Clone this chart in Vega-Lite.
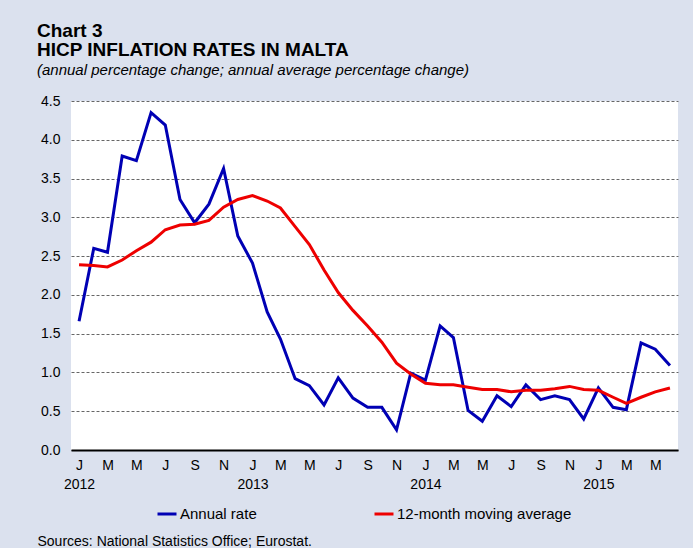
{
  "$schema": "https://vega.github.io/schema/vega-lite/v6.json",
  "autosize": {"type": "none"},
  "width": 607,
  "height": 349,
  "padding": {"left": 71, "top": 101, "right": 15, "bottom": 98},
  "background": "#dbe1ee",
  "view": {"fill": "white", "stroke": null},
  "config": {"font": "Liberation Sans"},
  "title": {
    "text": ["Chart 3", "HICP INFLATION RATES IN MALTA"],
    "subtitle": "(annual percentage change; annual average percentage change)",
    "anchor": "start",
    "frame": "group",
    "dx": -34,
    "offset": 16,
    "fontSize": 19,
    "fontWeight": "bold",
    "lineHeight": 19,
    "color": "black",
    "subtitleFontSize": 15,
    "subtitleFontStyle": "italic",
    "subtitleColor": "black",
    "subtitlePadding": 3
  },
  "data": {
    "values": [
      {"date": "2012-01-01", "series": "Annual rate", "value": 1.66},
      {"date": "2012-02-01", "series": "Annual rate", "value": 2.60},
      {"date": "2012-03-01", "series": "Annual rate", "value": 2.55},
      {"date": "2012-04-01", "series": "Annual rate", "value": 3.79},
      {"date": "2012-05-01", "series": "Annual rate", "value": 3.73},
      {"date": "2012-06-01", "series": "Annual rate", "value": 4.35},
      {"date": "2012-07-01", "series": "Annual rate", "value": 4.19},
      {"date": "2012-08-01", "series": "Annual rate", "value": 3.23},
      {"date": "2012-09-01", "series": "Annual rate", "value": 2.93},
      {"date": "2012-10-01", "series": "Annual rate", "value": 3.17},
      {"date": "2012-11-01", "series": "Annual rate", "value": 3.63},
      {"date": "2012-12-01", "series": "Annual rate", "value": 2.76},
      {"date": "2013-01-01", "series": "Annual rate", "value": 2.41},
      {"date": "2013-02-01", "series": "Annual rate", "value": 1.78},
      {"date": "2013-03-01", "series": "Annual rate", "value": 1.43},
      {"date": "2013-04-01", "series": "Annual rate", "value": 0.92},
      {"date": "2013-05-01", "series": "Annual rate", "value": 0.83},
      {"date": "2013-06-01", "series": "Annual rate", "value": 0.58},
      {"date": "2013-07-01", "series": "Annual rate", "value": 0.93},
      {"date": "2013-08-01", "series": "Annual rate", "value": 0.67},
      {"date": "2013-09-01", "series": "Annual rate", "value": 0.55},
      {"date": "2013-10-01", "series": "Annual rate", "value": 0.55},
      {"date": "2013-11-01", "series": "Annual rate", "value": 0.26},
      {"date": "2013-12-01", "series": "Annual rate", "value": 0.99},
      {"date": "2014-01-01", "series": "Annual rate", "value": 0.90},
      {"date": "2014-02-01", "series": "Annual rate", "value": 1.60},
      {"date": "2014-03-01", "series": "Annual rate", "value": 1.45},
      {"date": "2014-04-01", "series": "Annual rate", "value": 0.51},
      {"date": "2014-05-01", "series": "Annual rate", "value": 0.37},
      {"date": "2014-06-01", "series": "Annual rate", "value": 0.70},
      {"date": "2014-07-01", "series": "Annual rate", "value": 0.56},
      {"date": "2014-08-01", "series": "Annual rate", "value": 0.84},
      {"date": "2014-09-01", "series": "Annual rate", "value": 0.65},
      {"date": "2014-10-01", "series": "Annual rate", "value": 0.70},
      {"date": "2014-11-01", "series": "Annual rate", "value": 0.65},
      {"date": "2014-12-01", "series": "Annual rate", "value": 0.40},
      {"date": "2015-01-01", "series": "Annual rate", "value": 0.80},
      {"date": "2015-02-01", "series": "Annual rate", "value": 0.55},
      {"date": "2015-03-01", "series": "Annual rate", "value": 0.52},
      {"date": "2015-04-01", "series": "Annual rate", "value": 1.38},
      {"date": "2015-05-01", "series": "Annual rate", "value": 1.30},
      {"date": "2015-06-01", "series": "Annual rate", "value": 1.09},
      {"date": "2012-01-01", "series": "12-month moving average", "value": 2.39},
      {"date": "2012-02-01", "series": "12-month moving average", "value": 2.38},
      {"date": "2012-03-01", "series": "12-month moving average", "value": 2.36},
      {"date": "2012-04-01", "series": "12-month moving average", "value": 2.45},
      {"date": "2012-05-01", "series": "12-month moving average", "value": 2.57},
      {"date": "2012-06-01", "series": "12-month moving average", "value": 2.68},
      {"date": "2012-07-01", "series": "12-month moving average", "value": 2.84},
      {"date": "2012-08-01", "series": "12-month moving average", "value": 2.90},
      {"date": "2012-09-01", "series": "12-month moving average", "value": 2.91},
      {"date": "2012-10-01", "series": "12-month moving average", "value": 2.96},
      {"date": "2012-11-01", "series": "12-month moving average", "value": 3.13},
      {"date": "2012-12-01", "series": "12-month moving average", "value": 3.23},
      {"date": "2013-01-01", "series": "12-month moving average", "value": 3.28},
      {"date": "2013-02-01", "series": "12-month moving average", "value": 3.21},
      {"date": "2013-03-01", "series": "12-month moving average", "value": 3.12},
      {"date": "2013-04-01", "series": "12-month moving average", "value": 2.88},
      {"date": "2013-05-01", "series": "12-month moving average", "value": 2.65},
      {"date": "2013-06-01", "series": "12-month moving average", "value": 2.32},
      {"date": "2013-07-01", "series": "12-month moving average", "value": 2.03},
      {"date": "2013-08-01", "series": "12-month moving average", "value": 1.80},
      {"date": "2013-09-01", "series": "12-month moving average", "value": 1.60},
      {"date": "2013-10-01", "series": "12-month moving average", "value": 1.39},
      {"date": "2013-11-01", "series": "12-month moving average", "value": 1.12},
      {"date": "2013-12-01", "series": "12-month moving average", "value": 0.98},
      {"date": "2014-01-01", "series": "12-month moving average", "value": 0.86},
      {"date": "2014-02-01", "series": "12-month moving average", "value": 0.84},
      {"date": "2014-03-01", "series": "12-month moving average", "value": 0.84},
      {"date": "2014-04-01", "series": "12-month moving average", "value": 0.81},
      {"date": "2014-05-01", "series": "12-month moving average", "value": 0.78},
      {"date": "2014-06-01", "series": "12-month moving average", "value": 0.78},
      {"date": "2014-07-01", "series": "12-month moving average", "value": 0.75},
      {"date": "2014-08-01", "series": "12-month moving average", "value": 0.77},
      {"date": "2014-09-01", "series": "12-month moving average", "value": 0.77},
      {"date": "2014-10-01", "series": "12-month moving average", "value": 0.79},
      {"date": "2014-11-01", "series": "12-month moving average", "value": 0.82},
      {"date": "2014-12-01", "series": "12-month moving average", "value": 0.78},
      {"date": "2015-01-01", "series": "12-month moving average", "value": 0.77},
      {"date": "2015-02-01", "series": "12-month moving average", "value": 0.68},
      {"date": "2015-03-01", "series": "12-month moving average", "value": 0.60},
      {"date": "2015-04-01", "series": "12-month moving average", "value": 0.68},
      {"date": "2015-05-01", "series": "12-month moving average", "value": 0.75},
      {"date": "2015-06-01", "series": "12-month moving average", "value": 0.80}
    ]
  },
  "mark": {"type": "line", "strokeWidth": 3, "strokeJoin": "miter"},
  "encoding": {
    "x": {
      "field": "date",
      "type": "temporal",
      "scale": {
        "type": "utc",
        "domain": [
          {"year": 2011, "month": 12, "date": 15, "utc": true},
          {"year": 2015, "month": 6, "date": 18, "utc": true}
        ]
      },
      "axis": {
        "title": "Sources: National Statistics Office; Eurostat.",
        "titleX": -34,
        "titleY": 95,
        "titleAlign": "left",
        "titleAnchor": "start",
        "titleBaseline": "alphabetic",
        "titleFontSize": 14,
        "titleFontWeight": "normal",
        "titleColor": "black",
        "tickCount": {"interval": "month", "step": 2},
        "labelExpr": "[substring(utcFormat(datum.value, '%b'), 0, 1), utcmonth(datum.value) == 0 ? utcFormat(datum.value, '%Y') : '']",
        "labelFontSize": 14,
        "labelColor": "black",
        "labelLineHeight": 19,
        "labelPadding": 8,
        "labelAlign": "center",
        "labelBaseline": "top",
        "labelOverlap": false,
        "labelFlush": false,
        "labelBound": false,
        "ticks": false,
        "grid": false,
        "domainColor": "black",
        "domainWidth": 2
      }
    },
    "y": {
      "field": "value",
      "type": "quantitative",
      "scale": {"domain": [0, 4.5], "nice": false},
      "axis": {
        "title": null,
        "values": [0, 0.5, 1, 1.5, 2, 2.5, 3, 3.5, 4, 4.5],
        "format": ".1f",
        "labelFontSize": 14,
        "labelColor": "black",
        "labelPadding": 11,
        "ticks": false,
        "domain": false,
        "grid": true,
        "gridColor": "#666666",
        "gridDash": [3, 2],
        "gridWidth": 1
      }
    },
    "color": {
      "field": "series",
      "type": "nominal",
      "scale": {
        "domain": ["Annual rate", "12-month moving average"],
        "range": ["#0000b4", "#ee0000"]
      },
      "legend": {
        "title": null,
        "orient": "none",
        "direction": "horizontal",
        "legendX": 85,
        "legendY": 402,
        "padding": 0,
        "symbolType": "stroke",
        "symbolSize": 361,
        "symbolStrokeWidth": 3,
        "labelFontSize": 15,
        "labelColor": "black",
        "labelOffset": 2,
        "labelLimit": 400,
        "columnPadding": 111
      }
    }
  }
}
